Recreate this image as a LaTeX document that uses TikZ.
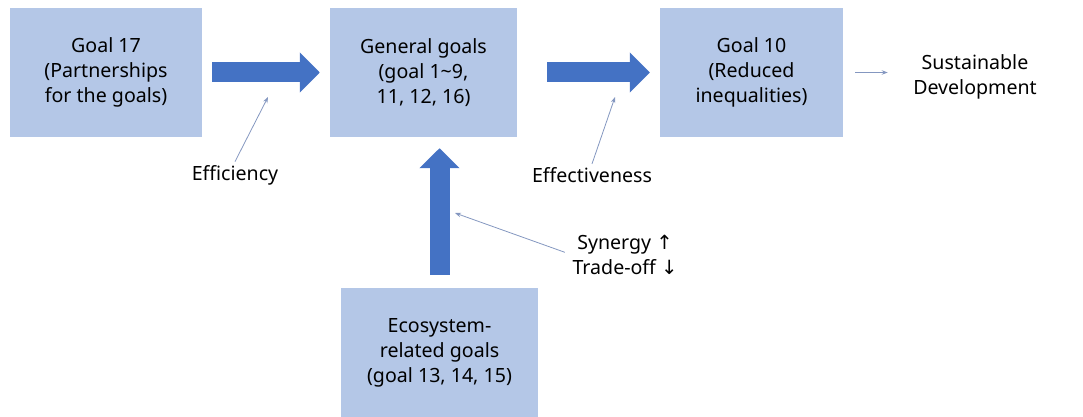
\documentclass[tikz,border=0pt]{standalone}
\usepackage{fontspec}
\setmainfont{Noto Sans}
\newfontfamily\arrowfont{DejaVu Sans}
\usepackage{tikz}
\usetikzlibrary{arrows.meta}
\usepackage{xcolor}
\definecolor{boxblue}{HTML}{B4C7E7}
\definecolor{arrowblue}{HTML}{4472C4}
\definecolor{thinblue}{HTML}{8497C0}

\begin{document}
\begin{tikzpicture}[x=1pt,y=-1pt,
goalbox/.style={fill=boxblue, minimum height=129pt, align=center, inner sep=0pt, font=\fontsize{19.6}{25}\selectfont},
lbl/.style={align=center, font=\fontsize{19.6}{25}\selectfont},
bigarrow/.style={-{Triangle[width=39pt,length=20pt]}, line width=20pt, arrowblue},
thinarrow/.style={-{Stealth[length=6pt,width=4.5pt]}, line width=0.8pt, thinblue}]
\useasboundingbox (0,0) rectangle (1083,417);
%%%GOALS
\node[goalbox, minimum width=192pt] (goal17) at (106,72.5) {Goal 17\\(Partnerships\\for the goals)};
\node[goalbox, minimum width=187pt] (general) at (423.5,72.5) {General goals\\(goal 1\textasciitilde 9,\\11, 12, 16)};
\node[goalbox, minimum width=183pt] (goal10) at (751.5,72.5) {Goal 10\\(Reduced\\inequalities)};
\node[goalbox, minimum width=197pt] (eco) at (439.5,352.5) {Ecosystem-\\related goals\\(goal 13, 14, 15)};
\node[lbl] (sus) at (975,77) {Sustainable\\Development};
%%%LABELS
\node[lbl] (eff) at (235,175) {Efficiency};
\node[lbl] (efv) at (592,175) {Effectiveness};
\node[lbl, inner sep=0pt] (syn) at (625,255) {Synergy {\arrowfont ↑}\\Trade-off {\arrowfont ↓}};
\coordinate (effend) at (268,97);
\coordinate (efvend) at (615,97);
\coordinate (synend) at (455,213);
%%%BIG ARROWS
\draw[bigarrow, shorten <=10pt, shorten >=10pt] (goal17.east) -- (general.west |- goal17.east);
\draw[bigarrow, shorten <=30pt, shorten >=10pt] (general.east) -- (goal10.west |- general.east);
\draw[bigarrow, shorten <=13pt, shorten >=11pt] (eco.north) -- (eco.north |- general.south);
%%%THIN ARROWS
\draw[thinarrow] (eff.north) -- (effend);
\draw[thinarrow] (efv.north) -- (efvend);
\draw[thinarrow, shorten <=8pt] (syn.west) -- (synend);
\draw[thinarrow, shorten <=12pt, shorten >=22pt] (goal10.east) -- (goal10.east -| sus.west);
\end{tikzpicture}
\end{document}
